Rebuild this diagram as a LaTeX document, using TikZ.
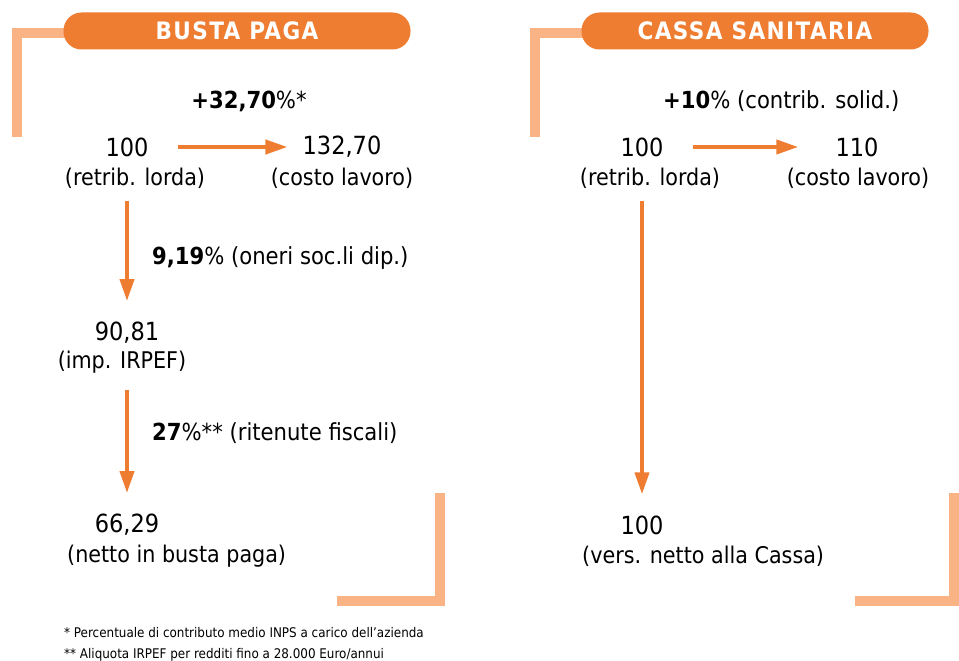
\documentclass[tikz,border=0pt]{standalone}
\usepackage{fontspec}
\setmainfont{DejaVu Sans Condensed}
\usetikzlibrary{arrows.meta,positioning}
\definecolor{pillorange}{HTML}{EE7D32}
\definecolor{lightorange}{HTML}{F9B384}

\begin{document}
\begin{tikzpicture}[x=1pt,y=-1pt,
    val/.style={font=\fontsize{25}{28}\selectfont,inner sep=1pt},
    desc/.style={font=\fontsize{23}{26}\selectfont,inner sep=1pt},
    note/.style={font=\fontsize{23.5}{26}\selectfont,inner sep=1pt,anchor=west},
    pill/.style={fill=pillorange,rounded corners=18pt,minimum height=37pt,minimum width=347pt,
      text=white,font=\fontsize{24}{28}\selectfont\bfseries},
    flow/.style={draw=pillorange,line width=4pt,-{Triangle[length=22pt,width=14pt]}},
    frame/.style={draw=lightorange,line width=10pt},
    foot/.style={font=\fontsize{13.3}{14}\selectfont,inner sep=0pt,anchor=west}]
  \useasboundingbox (0,0) rectangle (959,661);
  % corner frames
  \draw[frame] (17,137) -- (17,33) -- (80,33);
  \draw[frame] (535,137) -- (535,33) -- (600,33);
  \draw[frame] (440,493) -- (440,601) -- (337,601);
  \draw[frame] (954,493) -- (954,601) -- (855,601);
  % headers
  \node[pill] (hdrA) at (237,31) {\addfontfeatures{LetterSpace=6}BUSTA PAGA};
  \node[pill] (hdrB) at (755,31) {\addfontfeatures{LetterSpace=6}CASSA SANITARIA};

  % busta paga
  \node[val] (lordaA) at (127,147) {100};
  \node[desc] (lordaAd) at (135,178) {(retrib. lorda)};
  \node[val] (costoA) at (342,147) {132,70};
  \node[desc] (costoAd) at (342,178) {(costo lavoro)};
  \node[val] (impA) at (127,333) {90,81};
  \node[desc] (impAd) at (122,362) {(imp. IRPEF)};
  \node[val] (nettoA) at (127,525) {66,29};
  \node[desc,anchor=west] (nettoAd) at (66,556) {(netto in busta paga)};
  \node[note,anchor=center] (pctA) at (249,101) {{\bfseries +32,70}\%*};
  \node[note] (pctB) at (151,258) {{\bfseries 9,19}\% (oneri soc.li dip.)};
  \node[note] (pctC) at (151,433) {{\bfseries 27}\%** (ritenute fiscali)};
  \draw[flow,shorten <=28pt,shorten >=14pt] (lordaA.east) -- (costoA.west);
  \draw[flow,shorten <=12pt,shorten >=20pt] (lordaAd.south -| lordaA) -- (impA.north);
  \draw[flow,shorten <=16pt,shorten >=20pt] (impAd.south -| impA) -- (nettoA.north);

  % cassa sanitaria
  \node[val] (lordaB) at (642,147) {100};
  \node[desc] (lordaBd) at (650,178) {(retrib. lorda)};
  \node[val] (costoB) at (857,147) {110};
  \node[desc] (costoBd) at (858,178) {(costo lavoro)};
  \node[val] (versB) at (642,525) {100};
  \node[desc,anchor=west] (versBd) at (581,556) {(vers. netto alla Cassa)};
  \node[note] (pctD) at (662,101) {{\bfseries +10}\% (contrib. solid.)};
  \draw[flow,shorten <=28pt,shorten >=36pt] (lordaB.east) -- (costoB.west);
  \draw[flow,shorten <=12pt,shorten >=20pt] (lordaBd.south -| lordaB) -- (versB.north);

  % footnotes
  \node[foot] (fnA) at (64,633) {* Percentuale di contributo medio INPS a carico dell’azienda};
  \node[foot] (fnB) at (64,655) {** Aliquota IRPEF per redditi fino a 28.000 Euro/annui};
\end{tikzpicture}
\end{document}
